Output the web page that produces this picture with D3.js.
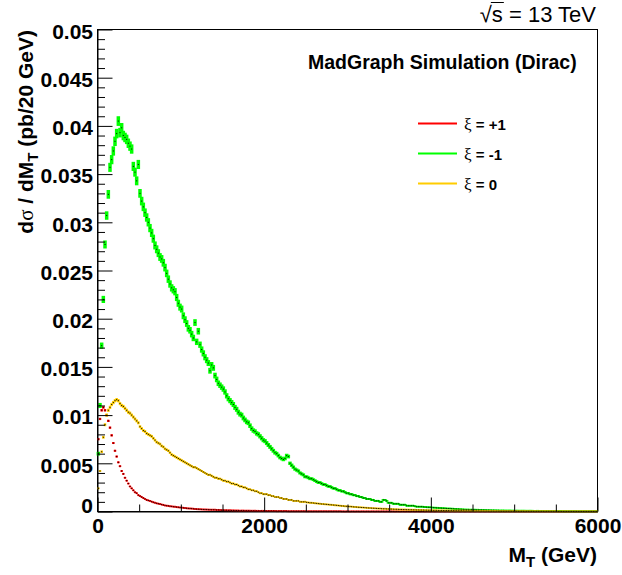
<!DOCTYPE html>
<html>
<head>
<meta charset="utf-8">
<script src="https://cdn.jsdelivr.net/npm/d3@7"></script>
<style>
  body { margin: 0; background: #fff; }
  svg text { font-family: "Liberation Sans", Arial, Helvetica, sans-serif; }
</style>
</head>
<body>
<svg id="chart" width="622" height="575"></svg>
<script>
// d(sigma)/dM_T in pb per 20 GeV bin, bins 0-20, 20-40, ... 5980-6000 GeV
const binWidth = 20;

// xi = +1 (red)
const xiPlus1 = [
  0.0075, 0.0096, 0.0105, 0.0108, 0.0105, 0.0100, 0.0094, 0.0087, 0.0079, 0.0071,
  0.0063, 0.0057, 0.0051, 0.0047, 0.0042, 0.0039, 0.0035, 0.0032, 0.0029, 0.0026,
  0.0024, 0.0022, 0.0020, 0.0019, 0.0017, 0.0016, 0.0015, 0.0014, 0.0013, 0.0012,
  0.00115, 0.0011, 0.00102, 0.00096, 0.0009, 0.00085, 0.00081, 0.00077, 0.00072, 0.00068,
  0.00063, 0.0006, 0.00058, 0.00055, 0.00053, 0.0005, 0.00048, 0.00046, 0.00044, 0.00042,
  0.0004, 0.00038, 0.00036, 0.00034, 0.00032, 0.00031, 0.0003, 0.00028, 0.00026, 0.00025,
  0.00024, 0.00023, 0.00022, 0.00021, 0.0002, 0.0002, 0.00019, 0.00019, 0.00018, 0.00018,
  0.00017, 0.00016, 0.00016, 0.00015, 0.00014, 0.00014, 0.00013, 0.00013, 0.00012, 0.00012,
  0.00011, 0.00011, 0.0001, 0.0001, 0.0001, 0.00009, 0.00009, 0.00009, 0.00008, 0.00008,
  0.00008, 0.00007, 0.00007, 0.00007, 0.00007, 0.00006, 0.00006, 0.00006, 0.00006, 0.00006,
  0.00006, 0.00005, 0.00005, 0.00005, 0.00005, 0.00005, 0.00005, 0.00004, 0.00004, 0.00004,
  0.00004, 0.00004, 0.00004, 0.00004, 0.00003, 0.00003, 0.00003, 0.00003, 0.00003, 0.00003,
  0.00003, 0.00003, 0.00003, 0.00003, 0.00003, 0.00002, 0.00002, 0.00002, 0.00002, 0.00002,
  0.00002, 0.00002, 0.00002, 0.00002, 0.00002, 0.00002, 0.00002, 0.00002, 0.00002, 0.00002,
  0.00002, 0.00002, 0.00002, 0.00002, 0.00002, 0.00002, 0.00001, 0.00001, 0.00001, 0.00001,
  0.00001, 0.00001, 0.00001, 0.00001, 0.00001, 0.00001, 0.00001, 0.00001, 0.00001, 0.00001,
  0.00001, 0.00001, 0.00001, 0.00001, 0.00001, 0.00001, 0.00001, 0.00001, 0.00001, 0.00001,
  0.00001, 0.00001, 0.00001, 0.00001, 0.00001, 0.00001, 0.00001, 0.00001, 0.00001, 0.00001,
  0.00001, 0.00001, 0.00001, 0.00001, 0.00001, 0.00001, 0.00001, 0.00001, 0.00001, 0.00001,
  0.00001, 0.00001, 0.00001, 0.00001, 0.00001, 0.00001, 0.00001, 0.00001, 0.00001, 0.00001,
  0.00001, 0.00001, 0.00001, 0.00001, 0.00001, 0.00001, 0.00001, 0.00001, 0.00001, 0.00001,
  0.00001, 0.00001, 0.00001, 0.00001, 0.00001, 0.00001, 0.00001, 0.00001, 0.00001, 0.00001,
  0.00001, 0.00001, 0.00001, 0.00001, 0.00001, 0.00001, 0.00001, 0.00001, 0.00001, 0.00001,
  0.00001, 0.00001, 0.00001, 0.00001, 0.00001, 0.00001, 0.00001, 0.00001, 0.00001, 0.00001,
  0.00001, 0.00001, 0.00001, 0.00001, 0.00001, 0.00001, 0.00001, 0.00001, 0.00001, 0.00001,
  0.00001, 0.00001, 0.00001, 0.00001, 0.00001, 0.00001, 0.00001, 0.00001, 0.00001, 0.00001,
  0.00001, 0.00001, 0.00001, 0.00001, 0.00001, 0.00001, 0.00001, 0.00001, 0.00001, 0.00001,
  0.00001, 0.00001, 0.00001, 0.00001, 0.00001, 0.00001, 0.00001, 0.00001, 0.00001, 0.00001,
  0.00001, 0.00001, 0.00001, 0.00001, 0.00001, 0.00001, 0.00001, 0.00001, 0.00001, 0.00001,
  0.00001, 0.00001, 0.00001, 0.00001, 0.00001, 0.00001, 0.00001, 0.00001, 0.00001, 0.00001
];

// xi = -1 (green)
const xiMinus1 = [
  0.0060, 0.0110, 0.0172, 0.0220, 0.0277, 0.0307, 0.0329, 0.0357, 0.0365, 0.0374,
  0.0384, 0.0392, 0.0405, 0.0393, 0.0398, 0.0390, 0.0388, 0.0386, 0.0382, 0.0379,
  0.0376, 0.0358, 0.0352, 0.0343, 0.0360, 0.0330, 0.0322, 0.0316, 0.0310, 0.0305,
  0.0300, 0.0294, 0.0289, 0.0283, 0.0276, 0.0272, 0.0268, 0.0264, 0.0262, 0.0258,
  0.0253, 0.0247, 0.0241, 0.0236, 0.0232, 0.0230, 0.0228, 0.0222, 0.0216, 0.0212,
  0.0210, 0.0203, 0.0199, 0.0195, 0.0190, 0.0188, 0.0184, 0.0180, 0.0196, 0.0176,
  0.0187, 0.0173, 0.0168, 0.0164, 0.0160, 0.0157, 0.0154, 0.0146, 0.0152, 0.0149,
  0.0141, 0.0137, 0.0133, 0.0131, 0.0129, 0.0127, 0.0124, 0.0120, 0.0117, 0.0115,
  0.0113, 0.0111, 0.0108, 0.0106, 0.0103, 0.0101, 0.0100, 0.0097, 0.0095, 0.0093,
  0.0092, 0.0089, 0.0086, 0.0084, 0.0083, 0.0081, 0.0080, 0.0078, 0.0076, 0.0074,
  0.0073, 0.0071, 0.0069, 0.0067, 0.0065, 0.0063, 0.0061, 0.0060, 0.0058, 0.0056,
  0.0055, 0.0054, 0.0055, 0.0058, 0.0057, 0.0050, 0.0048, 0.0046, 0.0044, 0.0043,
  0.0042, 0.0040, 0.0039, 0.0038, 0.0036, 0.0036, 0.0035, 0.0034, 0.0034, 0.0033,
  0.0032, 0.0031, 0.0030, 0.0030, 0.0029, 0.0028, 0.0028, 0.0027, 0.0026, 0.0026,
  0.0025, 0.0024, 0.0024, 0.0023, 0.0022, 0.0022, 0.0021, 0.0021, 0.0020, 0.0019,
  0.0019, 0.0018, 0.0018, 0.0017, 0.0017, 0.0016, 0.0016, 0.0015, 0.0015, 0.0014,
  0.0014, 0.0013, 0.0013, 0.0013, 0.0012, 0.0012, 0.0011, 0.0011, 0.0011, 0.0010,
  0.0010, 0.0012, 0.0012, 0.0011, 0.0009, 0.0009, 0.0009, 0.0008, 0.0008, 0.0008,
  0.0008, 0.0007, 0.0007, 0.0007, 0.0007, 0.0006, 0.0006, 0.0006, 0.0006, 0.0006,
  0.00055, 0.0005, 0.0005, 0.0005, 0.0005, 0.00048, 0.00046, 0.00045, 0.00044, 0.00043,
  0.00042, 0.0004, 0.0004, 0.00038, 0.00037, 0.00036, 0.00035, 0.00034, 0.00033, 0.00032,
  0.00031, 0.0003, 0.00029, 0.00028, 0.00027, 0.00026, 0.00025, 0.00024, 0.00023, 0.00022,
  0.00021, 0.0002, 0.0002, 0.00019, 0.00019, 0.00018, 0.00018, 0.00017, 0.00017, 0.00016,
  0.00016, 0.00015, 0.00015, 0.00014, 0.00014, 0.00014, 0.00013, 0.00013, 0.00012, 0.00012,
  0.00012, 0.00011, 0.00011, 0.00011, 0.0001, 0.0001, 0.0001, 0.0001, 0.00009, 0.00009,
  0.00009, 0.00009, 0.00008, 0.00008, 0.00008, 0.00008, 0.00007, 0.00007, 0.00007, 0.00007,
  0.00007, 0.00006, 0.00006, 0.00006, 0.00006, 0.00006, 0.00005, 0.00005, 0.00005, 0.00005,
  0.00005, 0.00005, 0.00004, 0.00004, 0.00004, 0.00004, 0.00004, 0.00004, 0.00004, 0.00003,
  0.00003, 0.00003, 0.00003, 0.00003, 0.00003, 0.00003, 0.00003, 0.00003, 0.00002, 0.00002,
  0.00002, 0.00002, 0.00002, 0.00002, 0.00002, 0.00002, 0.00002, 0.00002, 0.00002, 0.00002
];

// xi = 0 (yellow)
const xiZero = [
  0.0024, 0.0042, 0.0062, 0.0077, 0.0090, 0.0100, 0.0105, 0.0108, 0.0111, 0.0113,
  0.0115, 0.0116, 0.0115, 0.0112, 0.0110, 0.0109, 0.0107, 0.0105, 0.0103, 0.0102,
  0.0100, 0.0098, 0.0096, 0.0094, 0.0092, 0.0088, 0.0086, 0.0084, 0.0083, 0.0081,
  0.0080, 0.0079, 0.0078, 0.0076, 0.0074, 0.0072, 0.0071, 0.0070, 0.0068, 0.0067,
  0.0065, 0.0064, 0.0063, 0.0061, 0.0059, 0.0058, 0.0057, 0.0056, 0.0055, 0.0054,
  0.0053, 0.0052, 0.0051, 0.0050, 0.0049, 0.0048, 0.0047, 0.0046, 0.0046, 0.0045,
  0.0044, 0.0043, 0.0042, 0.0041, 0.0040, 0.0039, 0.0038, 0.0038, 0.0037, 0.0036,
  0.0035, 0.0035, 0.0034, 0.0034, 0.0033, 0.0032, 0.0032, 0.0031, 0.0031, 0.0030,
  0.0029, 0.0029, 0.0028, 0.0028, 0.0027, 0.0026, 0.0026, 0.0025, 0.0025, 0.0024,
  0.0023, 0.0023, 0.0022, 0.0022, 0.0021, 0.0021, 0.0020, 0.0019, 0.0019, 0.0018,
  0.0018, 0.0018, 0.0017, 0.0017, 0.0016, 0.0016, 0.0015, 0.0015, 0.0015, 0.0014,
  0.0014, 0.0013, 0.0013, 0.0013, 0.0012, 0.0012, 0.0012, 0.0011, 0.0011, 0.0011,
  0.0011, 0.0010, 0.0010, 0.0010, 0.0010, 0.00095, 0.00093, 0.0009, 0.0009, 0.00088,
  0.00086, 0.00084, 0.00082, 0.0008, 0.00078, 0.00077, 0.00075, 0.00074, 0.00072, 0.0007,
  0.00069, 0.00067, 0.00066, 0.00064, 0.00062, 0.0006, 0.00058, 0.00057, 0.00055, 0.00054,
  0.00052, 0.00051, 0.0005, 0.00048, 0.00047, 0.00046, 0.00044, 0.00043, 0.00042, 0.00041,
  0.0004, 0.00038, 0.00037, 0.00036, 0.00035, 0.00034, 0.00033, 0.00032, 0.00031, 0.0003,
  0.00029, 0.00028, 0.00028, 0.00027, 0.00026, 0.00025, 0.00025, 0.00024, 0.00023, 0.00023,
  0.00022, 0.00021, 0.00021, 0.0002, 0.0002, 0.00019, 0.00019, 0.00018, 0.00018, 0.00017,
  0.00017, 0.00016, 0.00016, 0.00015, 0.00015, 0.00015, 0.00014, 0.00014, 0.00013, 0.00013,
  0.00013, 0.00012, 0.00012, 0.00012, 0.00011, 0.00011, 0.00011, 0.0001, 0.0001, 0.0001,
  0.0001, 0.00009, 0.00009, 0.00009, 0.00009, 0.00008, 0.00008, 0.00008, 0.00008, 0.00007,
  0.00007, 0.00007, 0.00007, 0.00007, 0.00006, 0.00006, 0.00006, 0.00006, 0.00006, 0.00005,
  0.00005, 0.00005, 0.00005, 0.00005, 0.00004, 0.00004, 0.00004, 0.00004, 0.00004, 0.00004,
  0.00004, 0.00003, 0.00003, 0.00003, 0.00003, 0.00003, 0.00003, 0.00003, 0.00003, 0.00003,
  0.00003, 0.00003, 0.00002, 0.00002, 0.00002, 0.00002, 0.00002, 0.00002, 0.00002, 0.00002,
  0.00002, 0.00002, 0.00002, 0.00002, 0.00002, 0.00002, 0.00002, 0.00002, 0.00002, 0.00002,
  0.00002, 0.00002, 0.00002, 0.00002, 0.00002, 0.00001, 0.00001, 0.00001, 0.00001, 0.00001,
  0.00001, 0.00001, 0.00001, 0.00001, 0.00001, 0.00001, 0.00001, 0.00001, 0.00001, 0.00001,
  0.00001, 0.00001, 0.00001, 0.00001, 0.00001, 0.00001, 0.00001, 0.00001, 0.00001, 0.00001
];

const legendLabels = ["+1", "-1", "0"];
const xMajorTicks = [0, 2000, 4000, 6000];
const xMinorTicks = [500, 1000, 1500, 2500, 3000, 3500, 4500, 5000, 5500];
const yMajorTicks = [0, 0.005, 0.01, 0.015, 0.02, 0.025, 0.03, 0.035, 0.04, 0.045, 0.05];
const yTickLabels = ["0", "0.005", "0.01", "0.015", "0.02", "0.025", "0.03", "0.035", "0.04", "0.045", "0.05"];

// styles
const colors = ["#ff0000", "#00ff00", "#ffcc00"];
const errScale = [0.0012, 0.0025, 0.0016]; // size of stat. error bars ~ sqrt(content)
const barWidth = [2.5, 3.5, 2.5];

const svg = d3.select("#chart");
const plotLeft = 97.5, plotRight = 597.5, plotTop = 29.5, plotBottom = 511.5;

const x = d3.scaleLinear().domain([0, 6000]).range([plotLeft, plotRight]);
const y = d3.scaleLinear().domain([0, 0.05]).range([plotBottom, plotTop]);

// frame
svg.append("rect")
  .attr("x", plotLeft).attr("y", plotTop)
  .attr("width", plotRight - plotLeft).attr("height", plotBottom - plotTop)
  .attr("fill", "none").attr("stroke", "#000").attr("stroke-width", 1);

// histograms: error bars + black dot markers
var allSeries = [xiPlus1, xiMinus1, xiZero];
var order = [0, 1, 2];
order.forEach(function (s) {
  var g = svg.append("g").attr("class", "hist h" + s);
  var pts = allSeries[s].map(function (v, i) {
    return { lo: i * binWidth, hi: (i + 1) * binWidth, v: v, e: errScale[s] * Math.sqrt(v) };
  });
  g.selectAll("line.ev")
    .data(pts)
    .enter()
    .append("line")
    .attr("class", "ev")
    .attr("x1", function (d) { return x((d.lo + d.hi) / 2); })
    .attr("x2", function (d) { return x((d.lo + d.hi) / 2); })
    .attr("y1", function (d) { return Math.min(y(d.v - d.e), plotBottom); })
    .attr("y2", function (d) { return y(d.v + d.e); })
    .attr("stroke", colors[s])
    .attr("stroke-width", barWidth[s]);
  g.selectAll("line.eh")
    .data(pts)
    .enter()
    .append("line")
    .attr("class", "eh")
    .attr("x1", function (d) { return x(d.lo); })
    .attr("x2", function (d) { return x(d.hi); })
    .attr("y1", function (d) { return y(d.v); })
    .attr("y2", function (d) { return y(d.v); })
    .attr("stroke", colors[s])
    .attr("stroke-width", 2);
  g.selectAll("rect.mk")
    .data(pts)
    .enter()
    .append("rect")
    .attr("class", "mk")
    .attr("x", function (d) { return x((d.lo + d.hi) / 2) - 0.5; })
    .attr("y", function (d) { return y(d.v) - 0.5; })
    .attr("width", 1)
    .attr("height", 1)
    .attr("fill", "#000");
});

// y axis
var yAxis = svg.append("g")
  .attr("transform", "translate(" + plotLeft + ",0)")
  .call(d3.axisLeft(y).tickValues(yMajorTicks).tickSize(-15).tickSizeOuter(0).tickPadding(4.5)
    .tickFormat(function (d, i) { return yTickLabels[i]; }));
svg.append("g")
  .attr("transform", "translate(" + plotLeft + ",0)")
  .call(d3.axisLeft(y).tickValues(d3.range(0, 51).map(function (k) { return k / 1000; })
    .filter(function (v, k) { return k % 5 != 0; })).tickSize(-7.5).tickFormat(""))
  .select(".domain").remove();

// x axis
var xAxis = svg.append("g")
  .attr("transform", "translate(0," + plotBottom + ")")
  .call(d3.axisBottom(x).tickValues(xMajorTicks).tickSize(-14).tickSizeOuter(0).tickPadding(7)
    .tickFormat(d3.format("d")));
svg.append("g")
  .attr("transform", "translate(0," + plotBottom + ")")
  .call(d3.axisBottom(x).tickValues(xMinorTicks).tickSize(-7).tickFormat(""))
  .select(".domain").remove();

svg.selectAll(".tick line").attr("stroke", "#000");
svg.selectAll(".domain").attr("stroke", "#000");
[yAxis, xAxis].forEach(function (a) {
  a.selectAll("text")
    .attr("fill", "#000")
    .style("font-family", "'Liberation Sans', Arial, sans-serif")
    .style("font-size", "21px")
    .style("font-weight", "bold");
});
yAxis.selectAll("text").attr("dy", function (d) { return d === 0 ? "0.05em" : "0.42em"; });

// axis titles
var yTitle = svg.append("text")
  .attr("transform", "translate(33,30) rotate(-90)")
  .attr("text-anchor", "end")
  .style("font-size", "21px")
  .style("font-weight", "bold");
yTitle.append("tspan").text("d");
yTitle.append("tspan").style("font-family", "'Liberation Serif', serif").style("font-weight", "normal").text("σ");
yTitle.append("tspan").text(" / dM");
yTitle.append("tspan").attr("dy", 5).style("font-size", "15px").text("T");
yTitle.append("tspan").attr("dy", -5).text(" (pb/20 GeV)");

var xTitle = svg.append("text")
  .attr("x", 597)
  .attr("y", 562)
  .attr("text-anchor", "end")
  .style("font-size", "21px")
  .style("font-weight", "bold");
xTitle.append("tspan").text("M");
xTitle.append("tspan").attr("dy", 5).style("font-size", "15px").text("T");
xTitle.append("tspan").attr("dy", -5).text(" (GeV)");

// sqrt(s) label
var energy = svg.append("text")
  .attr("x", 596)
  .attr("y", 22)
  .attr("text-anchor", "end")
  .style("font-size", "22px")
  .text("√s = 13 TeV");
var eNode = energy.node();
var eStart = 596 - eNode.getComputedTextLength();
var sqrtW = eNode.getSubStringLength(0, 1);
var sW = eNode.getSubStringLength(1, 1);
svg.append("line")
  .attr("x1", eStart + sqrtW - 1).attr("x2", eStart + sqrtW + sW + 1)
  .attr("y1", 2.5).attr("y2", 2.5)
  .attr("stroke", "#000").attr("stroke-width", 1);

svg.append("text")
  .attr("x", 308)
  .attr("y", 69)
  .style("font-size", "19.5px")
  .style("font-weight", "bold")
  .text("MadGraph Simulation (Dirac)");

// legend
var legend = svg.append("g").attr("class", "legend");
legendLabels.forEach(function (lab, i) {
  var ly = 123.5 + i * 30;
  legend.append("line")
    .attr("x1", 418).attr("x2", 457)
    .attr("y1", ly).attr("y2", ly)
    .attr("stroke", colors[i]).attr("stroke-width", 2);
  var t = legend.append("text")
    .attr("x", 464)
    .attr("y", ly + 6.5)
    .style("font-size", "15px")
    .style("font-weight", "bold");
  t.append("tspan").style("font-family", "'Liberation Serif', serif").style("font-weight", "normal").style("font-size", "17px").text("ξ");
  t.append("tspan").text(" = " + lab);
});
</script>
</body>
</html>
